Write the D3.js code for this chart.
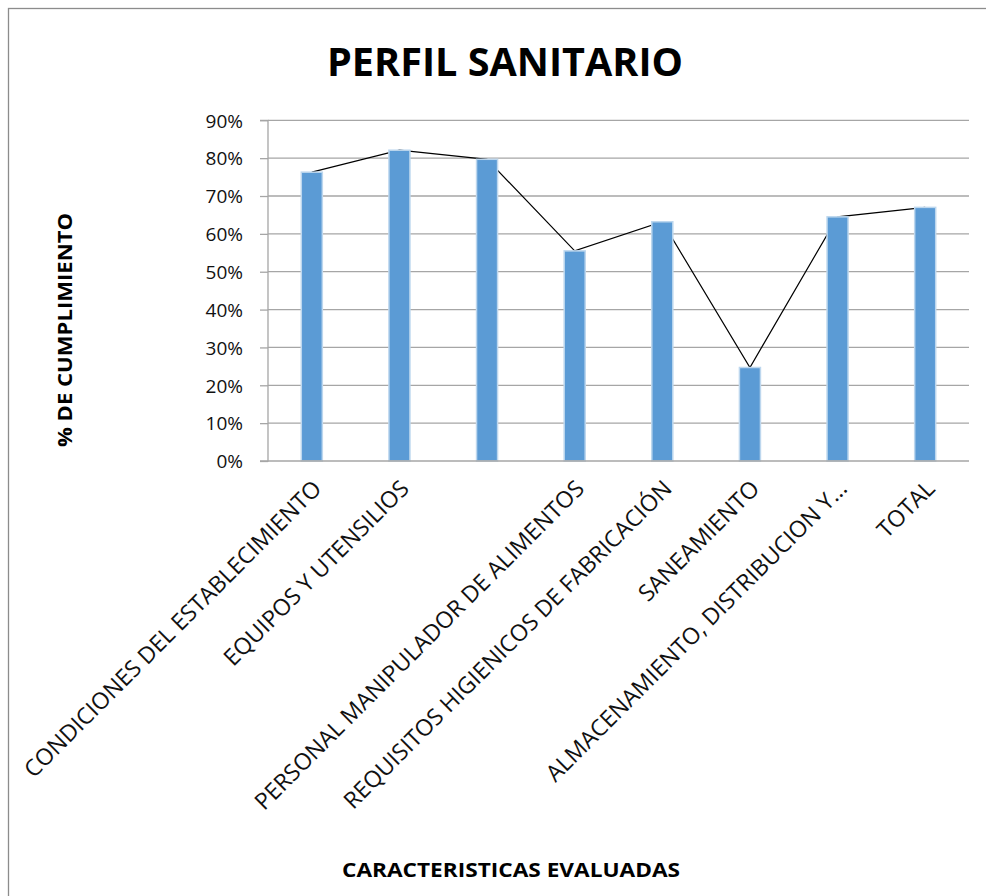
<!DOCTYPE html>
<html>
<head>
<meta charset="utf-8">
<script src="https://cdn.jsdelivr.net/npm/d3@7"></script>
<style>
  html, body { margin: 0; padding: 0; background: #fff; }
  svg { display: block; }
</style>
</head>
<body>
<script>
// ---- data ----
const categories = [
  "CONDICIONES DEL ESTABLECIMIENTO",
  "EQUIPOS Y UTENSILIOS",
  "",
  "PERSONAL MANIPULADOR DE ALIMENTOS",
  "REQUISITOS HIGIENICOS DE FABRICACIÓN",
  "SANEAMIENTO",
  "ALMACENAMIENTO, DISTRIBUCION Y...",
  "TOTAL"
];
const barValues  = [0.763, 0.821, 0.797, 0.555, 0.632, 0.247, 0.645, 0.670];
const lineValues = [0.763, 0.821, 0.797, 0.555, 0.632, 0.247, 0.645, 0.670];
const yTicks = [0, 0.1, 0.2, 0.3, 0.4, 0.5, 0.6, 0.7, 0.8, 0.9];
const titleText = "PERFIL SANITARIO";
const yTitle = "% DE CUMPLIMIENTO";
const xTitle = "CARACTERISTICAS EVALUADAS";

// ---- layout ----
const W = 986, H = 896;
const plot = { left: 268, right: 969, top: 120.3, bottom: 461 };
const font = "'Open Sans', 'DejaVu Sans', sans-serif";

const svg = d3.select("body").append("svg").attr("width", W).attr("height", H);

// outer chart border
svg.append("rect")
  .attr("x", 8.5).attr("y", 8.5).attr("width", W + 20).attr("height", H + 20)
  .attr("fill", "#fff").attr("stroke", "#8c8c8c").attr("stroke-width", 1.3);

const x = d3.scaleBand()
  .domain(d3.range(categories.length))
  .range([plot.left, plot.right])
  .paddingInner(0.76)
  .paddingOuter(0.38);

const y = d3.scaleLinear().domain([0, 0.9]).range([plot.bottom, plot.top]);

// gridlines
svg.append("g").selectAll("line").data(yTicks.filter(d => d > 0)).join("line")
  .attr("x1", plot.left).attr("x2", plot.right)
  .attr("y1", d => y(d)).attr("y2", d => y(d))
  .attr("stroke", "#a6a6a6").attr("stroke-width", 1.3);

// y axis
const yAxis = d3.axisLeft(y).tickValues(yTicks).tickFormat(d3.format(".0%")).tickSize(8).tickPadding(17);
const gy = svg.append("g").attr("transform", `translate(${plot.left},0)`).call(yAxis);
gy.select(".domain").attr("stroke", "#a6a6a6").attr("stroke-width", 1.3).attr("d", `M-8,${plot.top}H0V${plot.bottom}H-8`);
gy.selectAll(".tick line").attr("stroke", "#a6a6a6").attr("stroke-width", 1.3);
gy.selectAll(".tick text").attr("font-family", font).attr("font-size", 19).attr("fill", "#111").attr("dy", "0.36em");

// line series (behind bars)
const line = d3.line()
  .x((d, i) => x(i) + x.bandwidth() / 2)
  .y(d => y(d));
svg.append("path").datum(lineValues)
  .attr("d", line).attr("fill", "none").attr("stroke", "#000").attr("stroke-width", 1.2);

// bars
svg.append("g").selectAll("rect").data(barValues).join("rect")
  .attr("x", (d, i) => x(i))
  .attr("y", d => y(d))
  .attr("width", x.bandwidth())
  .attr("height", d => y(0) - y(d))
  .attr("fill", "#5b9bd5")
  .attr("stroke", "#bdd7ee").attr("stroke-width", 1.5);

// x baseline
svg.append("line")
  .attr("x1", plot.left).attr("x2", plot.right)
  .attr("y1", y(0)).attr("y2", y(0))
  .attr("stroke", "#a6a6a6").attr("stroke-width", 1.3);

// category labels rotated -45
svg.append("g").selectAll("text").data(categories).join("text")
  .attr("transform", (d, i) => `translate(${x(i) + x.bandwidth() / 2 + 11},${490}) rotate(-45)`)
  .attr("text-anchor", "end")
  .attr("font-family", font).attr("font-size", 23).attr("fill", "#111")
  .text(d => d);

// title
svg.append("text")
  .attr("x", 505).attr("y", 76)
  .attr("text-anchor", "middle")
  .attr("font-family", font).attr("font-weight", "bold").attr("font-size", 40)
  .attr("textLength", 356).attr("lengthAdjust", "spacingAndGlyphs")
  .attr("fill", "#000")
  .text(titleText);

// y title
svg.append("text")
  .attr("transform", `translate(72,330) rotate(-90)`)
  .attr("text-anchor", "middle")
  .attr("font-family", font).attr("font-weight", "bold").attr("font-size", 19)
  .attr("textLength", 234).attr("lengthAdjust", "spacingAndGlyphs")
  .attr("fill", "#000")
  .text(yTitle);

// x title
svg.append("text")
  .attr("x", 511).attr("y", 877)
  .attr("text-anchor", "middle")
  .attr("font-family", font).attr("font-weight", "bold").attr("font-size", 19)
  .attr("textLength", 338).attr("lengthAdjust", "spacingAndGlyphs")
  .attr("fill", "#000")
  .text(xTitle);
</script>
</body>
</html>
